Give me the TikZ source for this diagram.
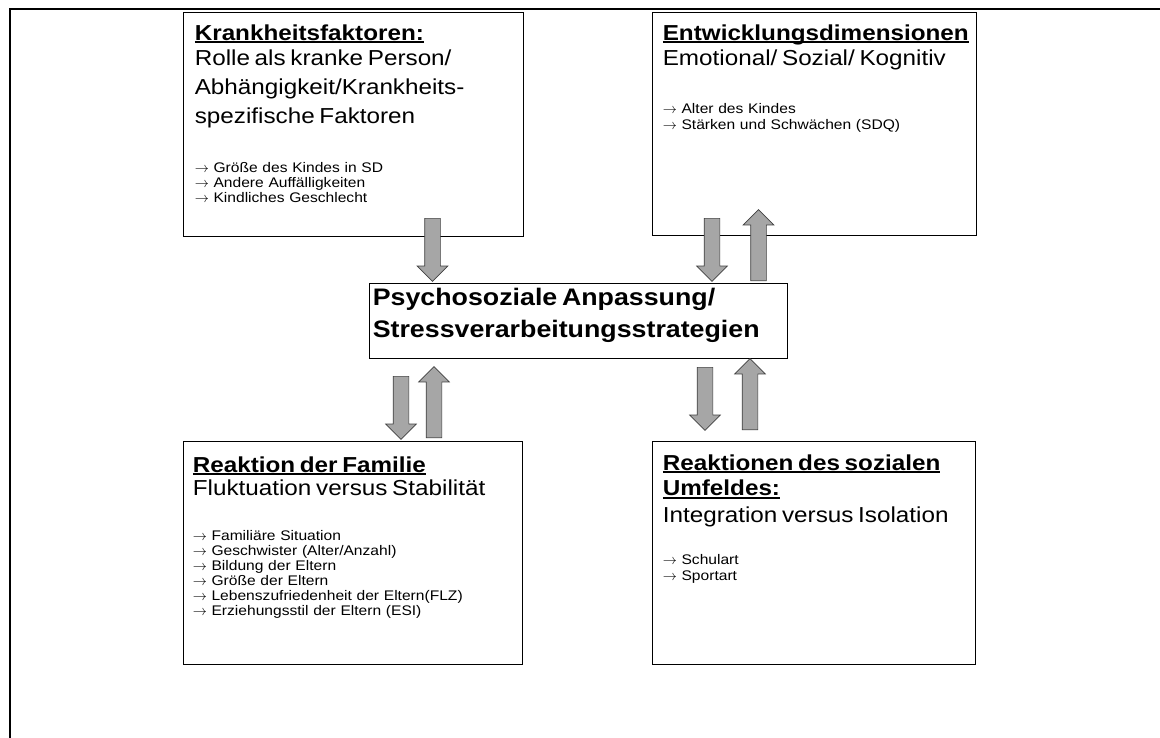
\documentclass[tikz,border=0pt]{standalone}
\usepackage{fontspec}
\setmainfont{Liberation Sans}[FakeStretch=1.12]
\usetikzlibrary{shapes.arrows}
\setlength{\parindent}{0pt}

\newcommand{\fsbig}{\fontsize{15.4}{20.5}\selectfont}
\newcommand{\fsmid}{\fontsize{17}{23.2}\selectfont}
\newcommand{\fslist}{\fontsize{9.9}{10.7}\selectfont}
\newcommand{\itemarrow}{$\rightarrow$\ }
\newsavebox{\hdbox}
\newcommand{\headul}[1]{\leavevmode\sbox{\hdbox}{\bfseries #1}\rlap{\rule[-2.1pt]{\wd\hdbox}{1.3pt}}\usebox{\hdbox}}

\begin{document}
\begin{tikzpicture}[x=0.025cm, y=-0.025cm,
  every node/.style={inner sep=0pt},
  box/.style={draw, line width=0.6pt},
  boxtext/.style={anchor=north west, text width=#1, align=left},
  blockarrow/.style={single arrow, draw=black!75, fill=black!35, line width=0.5pt,
    inner xsep=0pt, inner ysep=0.1875cm, single arrow head extend=0.1875cm,
    single arrow tip angle=90, minimum height=#1, anchor=tail}]
  \useasboundingbox (0,0) rectangle (1160,738);
  \draw[line width=2pt] (10,738) -- (10,9) -- (1160,9);

  \node[box, minimum width=8.5cm, minimum height=5.6cm] (kf) at (353,124) {};
  \node[box, minimum width=8.1cm, minimum height=5.575cm] (ed) at (814,123.5) {};
  \node[box, minimum width=10.45cm, minimum height=1.875cm] (psa) at (578,320.5) {};
  \node[box, minimum width=8.475cm, minimum height=5.575cm] (rf) at (352.5,552.5) {};
  \node[box, minimum width=8.075cm, minimum height=5.575cm] (su) at (813.5,552.5) {};

  \node[boxtext=8cm] (kftext) at ([shift={(12,12.5)}]kf.north west) {%
    {\fsbig\headul{Krankheitsfaktoren:}\\[-2.2pt]
    Rolle als kranke Person/\\
    Abhängigkeit/Krankheits-\\
    spezifische Faktoren\par}
    \vspace{24pt}
    {\fslist \itemarrow Größe des Kindes in SD\\
    \itemarrow Andere Auffälligkeiten\\
    \itemarrow Kindliches Geschlecht\par}};
  \node[boxtext=8cm] (edtext) at ([shift={(11,12.5)}]ed.north west) {%
    {\fsbig\headul{Entwicklungsdimensionen}\\[-2.2pt]
    Emotional/ Sozial/ Kognitiv\par}
    \vspace{22.9pt}
    {\fslist \itemarrow Alter des Kindes\\[0.7pt]
    \itemarrow Stärken und Schwächen (SDQ)\par}};
  \node[boxtext=10cm] (psatext) at ([shift={(4,5)}]psa.north west) {%
    {\fsmid\bfseries Psychosoziale Anpassung/\\
    Stressverarbeitungsstrategien\par}};
  \node[boxtext=8cm] (rftext) at ([shift={(10,15.5)}]rf.north west) {%
    {\fsbig\headul{Reaktion der Familie}\\[-3.7pt]
    Fluktuation versus Stabilität\par}
    \vspace{21.1pt}
    {\fslist \itemarrow Familiäre Situation\\
    \itemarrow Geschwister (Alter/Anzahl)\\
    \itemarrow Bildung der Eltern\\
    \itemarrow Größe der Eltern\\
    \itemarrow Lebenszufriedenheit der Eltern(FLZ)\\
    \itemarrow Erziehungsstil der Eltern (ESI)\par}};
  \node[boxtext=8cm] (sutext) at ([shift={(11,13.5)}]su.north west) {%
    {\fsbig\headul{Reaktionen des sozialen}\\[-2.2pt]
    \headul{Umfeldes:}\\[-1.5pt]
    Integration versus Isolation\par}
    \vspace{19.4pt}
    {\fslist \itemarrow Schulart\\[0.7pt]
    \itemarrow Sportart\par}};

  \node[blockarrow=1.575cm, rotate=-90] (kf2psa) at (432.5,218) {};
  \node[blockarrow=1.575cm, rotate=-90] (ed2psa) at (712,218) {};
  \node[blockarrow=1.775cm, rotate=90] (psa2ed) at (758.5,281) {};
  \node[blockarrow=1.575cm, rotate=-90] (psa2rf) at (401,376) {};
  \node[blockarrow=1.775cm, rotate=90] (rf2psa) at (434,438) {};
  \node[blockarrow=1.575cm, rotate=-90] (psa2su) at (705,367) {};
  \node[blockarrow=1.775cm, rotate=90] (su2psa) at (750,430) {};
\end{tikzpicture}
\end{document}
